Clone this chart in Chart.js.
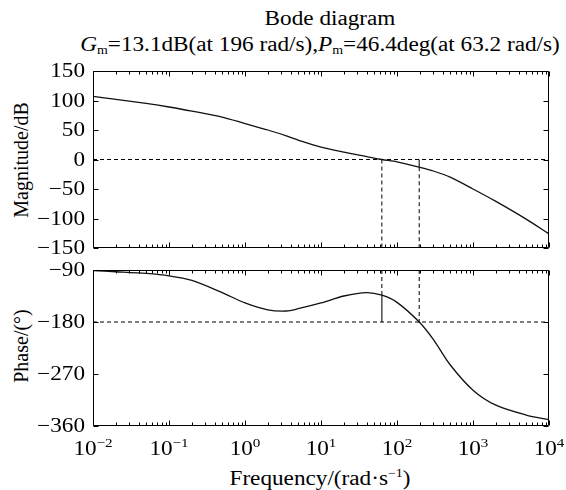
<!DOCTYPE html>
<html>
<head>
<meta charset="utf-8">
<script src="https://cdn.jsdelivr.net/npm/chart.js@4"></script>
<style>
  body { margin:0; width:566px; height:490px; background:#fff; position:relative; overflow:hidden;
         font-family:"Liberation Serif", "Times New Roman", serif; color:#000; }
  canvas { position:absolute; left:0; top:0; }
  .lbl { position:absolute; white-space:nowrap; font-size:20px; line-height:24px; transform:translate(-50%,-50%) scaleX(1.16); }
  .rot { transform:translate(-50%,-50%) rotate(-90deg); }
  sub { font-size:12px; vertical-align:-3px; }
  sup { font-size:12px; vertical-align:8px; line-height:0; }
</style>
</head>
<body>
<div class="lbl" style="left:330px;top:18px">Bode diagram</div>
<div class="lbl" style="left:320px;top:47px"><i>G</i><sub>m</sub>=13.1dB(at 196 rad/s),<i>P</i><sub>m</sub>=46.4deg(at 63.2 rad/s)</div>
<div class="lbl rot" style="left:21px;top:160px">Magnitude/dB</div>
<div class="lbl rot" style="left:21px;top:346px">Phase/(°)</div>
<div class="lbl" style="left:320px;top:478px">Frequency/(rad·s<sup>−1</sup>)</div>
<canvas id="mag" width="566" height="490"></canvas>
<canvas id="phase" width="566" height="490"></canvas>
<script>
// frequency points (rad/s)
const freq  = [0.01, 0.02, 0.05, 0.1, 0.2, 0.5, 1, 2, 3.5, 5, 10, 20, 40, 63.2, 100, 196, 300, 500, 1000, 2000, 5000, 10000];
const magDb = [107, 102, 95, 89, 82, 72, 61, 50, 40, 33, 21, 12.5, 5, 0, -4, -13.1, -19.5, -30, -50, -71, -101, -126];
const phaseDeg = [-91, -93, -96, -100, -108, -129, -147, -159, -161, -157, -147, -135, -129, -133.6, -146, -180, -210, -254, -298, -324, -341, -349];

// margins
const gmFreq = 196, gmDb = -13.1;
const pmFreq = 63.2, pmPhase = -133.6;

const magTicks = [150, 100, 50, 0, -50, -100, -150];
const phaseTicks = [-90, -180, -270, -360];
const decades = [-2, -1, 0, 1, 2, 3, 4];

const FONT = '"Liberation Serif", "Times New Roman", serif';
const STRETCH = 1.16; // reference text is a bit wider than plain Times
const minus = s => String(s).replace('-', '\u2212');
const xy = (xs, ys) => xs.map((v, i) => ({x: v, y: ys[i]}));

const curve = (data) => ({data, borderColor:'#111', borderWidth:1.3, pointRadius:0, tension:0.3});
const dashed = (data) => ({data, borderColor:'#000', borderWidth:1, borderDash:[4,3], pointRadius:0});
const solid = (data) => ({data, borderColor:'#333', borderWidth:1.3, pointRadius:0});

function wideText(ctx, txt, x, y, align) {
  ctx.save();
  ctx.translate(x, y);
  ctx.scale(STRETCH, 1);
  ctx.textAlign = align;
  ctx.fillText(txt, 0, 0);
  ctx.restore();
}

// box, inward ticks on all four sides, y labels
const frame = {
  id: 'frame',
  afterDatasetsDraw(chart) {
    const {ctx, chartArea: a, scales: {x, y}} = chart;
    ctx.save();
    ctx.strokeStyle = '#000';
    ctx.lineWidth = 1;
    ctx.beginPath();
    const L = Math.round(a.left) + 0.5, R = Math.round(a.right) - 0.5;
    const T = Math.round(a.top) + 0.5, B = Math.round(a.bottom) - 0.5;
    ctx.rect(L, T, R - L, B - T);
    for (const k of decades) {
      for (let m = 1; m < 10; m++) {
        const v = m * Math.pow(10, k);
        if (v > x.max * 1.0001) break;
        const px = Math.round(x.getPixelForValue(v)) + 0.5;
        const len = m === 1 ? 5 : 3;
        ctx.moveTo(px, T); ctx.lineTo(px, T + len);
        ctx.moveTo(px, B); ctx.lineTo(px, B - len);
      }
    }
    y.ticks.forEach(t => {
      const py = Math.round(y.getPixelForValue(t.value)) + 0.5;
      ctx.moveTo(L, py); ctx.lineTo(L + 5, py);
      ctx.moveTo(R, py); ctx.lineTo(R - 5, py);
    });
    ctx.stroke();
    ctx.fillStyle = '#000';
    ctx.font = '20px ' + FONT;
    ctx.textBaseline = 'middle';
    y.ticks.forEach(t => {
      wideText(ctx, minus(t.value), a.left - 8, y.getPixelForValue(t.value) + 1, 'right');
    });
    ctx.restore();
  }
};

// 10^k labels under the bottom plot
const xLabels = {
  id: 'xLabels',
  afterDraw(chart) {
    const {ctx, chartArea: a, scales: {x}} = chart;
    ctx.save();
    ctx.fillStyle = '#000';
    ctx.textBaseline = 'alphabetic';
    decades.forEach(k => {
      const px = x.getPixelForValue(Math.pow(10, k));
      const exp = minus(k);
      ctx.font = '20px ' + FONT;
      const wb = ctx.measureText('10').width * STRETCH;
      ctx.font = '13px ' + FONT;
      const we = ctx.measureText(exp).width * STRETCH;
      const start = px - (wb + we) / 2;
      ctx.font = '20px ' + FONT;
      wideText(ctx, '10', start, a.bottom + 29, 'left');
      ctx.font = '13px ' + FONT;
      wideText(ctx, exp, start + wb, a.bottom + 21, 'left');
    });
    ctx.restore();
  }
};

function makeChart(id, padTop, padBottom, datasets, yMin, yMax, yTicks, plugins) {
  return new Chart(document.getElementById(id), {
    type: 'line',
    data: {datasets},
    options: {
      responsive: false,
      animation: false,
      devicePixelRatio: 1,
      layout: {padding: {left: 0, right: 17, top: padTop, bottom: padBottom}},
      plugins: {legend: {display: false}, tooltip: {enabled: false}},
      scales: {
        x: {type: 'logarithmic', min: 0.01, max: 10000, display: false},
        y: {
          min: yMin, max: yMax,
          grid: {display: false, drawTicks: false},
          border: {display: false},
          afterBuildTicks: s => { s.ticks = yTicks.map(v => ({value: v})); },
          afterFit: s => { s.width = 93; },
          ticks: {display: false}
        }
      }
    },
    plugins
  });
}

makeChart('mag', 71, 242, [
  curve(xy(freq, magDb)),
  dashed([{x: 0.01, y: 0}, {x: 10000, y: 0}]),
  dashed([{x: pmFreq, y: 0}, {x: pmFreq, y: -150}]),
  dashed([{x: gmFreq, y: gmDb}, {x: gmFreq, y: -150}]),
  solid([{x: gmFreq, y: 0}, {x: gmFreq, y: gmDb}])
], -150, 150, magTicks, [frame]);

makeChart('phase', 270, 64, [
  curve(xy(freq, phaseDeg)),
  dashed([{x: 0.01, y: -180}, {x: 10000, y: -180}]),
  dashed([{x: pmFreq, y: -90}, {x: pmFreq, y: pmPhase}]),
  solid([{x: pmFreq, y: pmPhase}, {x: pmFreq, y: -180}]),
  dashed([{x: gmFreq, y: -90}, {x: gmFreq, y: -180}])
], -360, -90, phaseTicks, [frame, xLabels]);
</script>
</body>
</html>
